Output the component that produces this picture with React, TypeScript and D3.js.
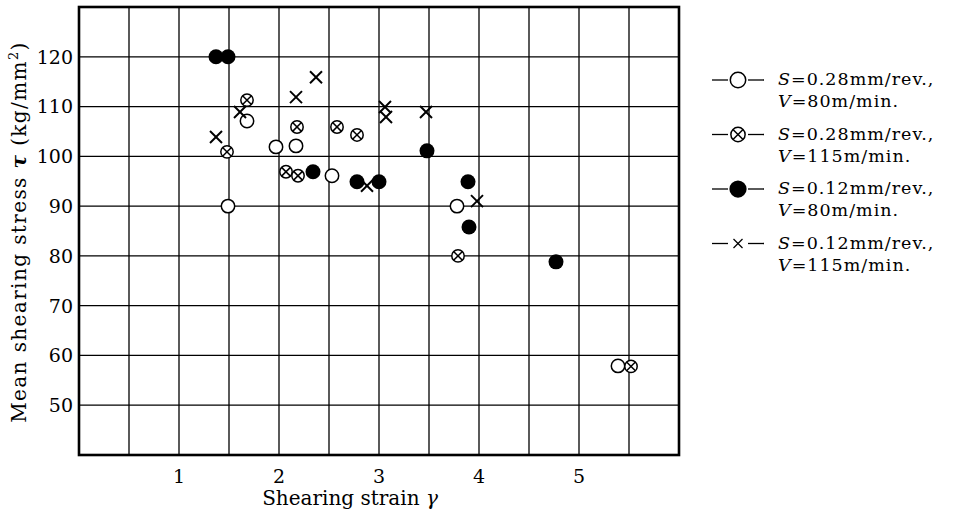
import React from "react";
import * as d3 from "d3";

// S=0.28mm/rev., V=80m/min. (open circle)
const openPts = [
  [1.49, 90], [1.68, 107.1], [1.97, 101.9], [2.17, 102.1], [2.53, 96.1], [3.78, 90], [5.39, 57.9],
];
// S=0.28mm/rev., V=115m/min. (crossed circle)
const crossedPts = [
  [1.48, 100.9], [1.68, 111.3], [2.18, 105.9], [2.07, 96.9], [2.19, 96.1], [2.58, 105.9],
  [2.78, 104.3], [3.79, 80], [5.52, 57.8],
];
// S=0.12mm/rev., V=80m/min. (filled circle)
const filledPts = [
  [1.37, 120], [1.49, 120], [2.34, 96.9], [2.78, 94.9], [3.0, 94.9], [3.48, 101.1],
  [3.89, 94.9], [3.9, 85.8], [4.77, 78.8],
];
// S=0.12mm/rev., V=115m/min. (cross)
const xPts = [
  [1.37, 103.9], [1.61, 108.9], [2.17, 111.9], [2.37, 115.9], [3.06, 109.9], [3.07, 107.9],
  [3.47, 108.9], [2.88, 94.1], [3.98, 91],
];

const xTicks = [1, 2, 3, 4, 5];
const yTicks = [50, 60, 70, 80, 90, 100, 110, 120];
const legendS = ["0.28", "0.28", "0.12", "0.12"];
const legendV = ["80", "115", "80", "115"];
const legendKinds = ["open", "crossed", "filled", "x"];

const W = 968;
const H = 518;
const margin = { left: 79, right: 289, top: 7, bottom: 63 };
const FONT = "'DejaVu Serif', serif";

const Marker = ({ kind, cx, cy, s = 1 }: { kind: string; cx: number; cy: number; s?: number }) => {
  if (kind === "open")
    return <circle cx={cx} cy={cy} r={6.7 * s} fill="#fff" stroke="#000" strokeWidth={1.5} />;
  if (kind === "filled") return <circle cx={cx} cy={cy} r={7.5 * s} fill="#000" />;
  if (kind === "crossed") {
    const r = 6.2 * s;
    const d = r * Math.SQRT1_2;
    return (
      <g stroke="#000" strokeWidth={1.5}>
        <circle cx={cx} cy={cy} r={r} fill="#fff" />
        <line x1={cx - d} y1={cy - d} x2={cx + d} y2={cy + d} />
        <line x1={cx - d} y1={cy + d} x2={cx + d} y2={cy - d} />
      </g>
    );
  }
  const h = 6 * s;
  return (
    <g stroke="#000" strokeWidth={s < 1 ? 1.2 : 2}>
      <line x1={cx - h} y1={cy - h} x2={cx + h} y2={cy + h} />
      <line x1={cx - h} y1={cy + h} x2={cx + h} y2={cy - h} />
    </g>
  );
};

export default function App() {
  const x = d3.scaleLinear().domain([0, 6]).range([margin.left, W - margin.right]);
  const y = d3.scaleLinear().domain([40, 130]).range([H - margin.bottom, margin.top]);

  const vGrid = d3.range(0.5, 6, 0.5);
  const hGrid = d3.range(50, 130, 10);

  const series = [
    { kind: "open", pts: openPts },
    { kind: "crossed", pts: crossedPts },
    { kind: "filled", pts: filledPts },
    { kind: "x", pts: xPts },
  ];

  return (
    <svg width={W} height={H} style={{ position: "absolute", left: 0, top: 0, background: "#fff" }}>
      {/* grid */}
      <g stroke="#000" strokeWidth={1.3}>
        {vGrid.map((v) => (
          <line key={"v" + v} x1={x(v)} x2={x(v)} y1={y(40)} y2={y(130)} />
        ))}
        {hGrid.map((v) => (
          <line key={"h" + v} x1={x(0)} x2={x(6)} y1={y(v)} y2={y(v)} />
        ))}
      </g>
      <rect
        x={x(0)}
        y={y(130)}
        width={x(6) - x(0)}
        height={y(40) - y(130)}
        fill="none"
        stroke="#000"
        strokeWidth={2.6}
      />

      {/* ticks */}
      <g fontFamily={FONT} fontSize={19} fill="#000">
        {yTicks.map((t) => (
          <text key={t} x={x(0) - 6} y={y(t)} dy="0.36em" textAnchor="end">
            {t}
          </text>
        ))}
        {xTicks.map((t) => (
          <text key={t} x={x(t)} y={y(40) + 28} textAnchor="middle">
            {t}
          </text>
        ))}
      </g>

      {/* axis titles */}
      <text x={350} y={505} textAnchor="middle" fontFamily={FONT} fontSize={20}>
        Shearing strain <tspan fontStyle="italic">γ</tspan>
      </text>
      <text
        transform={`translate(26,${232}) rotate(-90)`}
        textAnchor="middle"
        fontFamily={FONT}
        fontSize={20}
        letterSpacing={1.4}
      >
        Mean shearing stress <tspan fontWeight="bold" fontStyle="italic">τ</tspan> (kg/mm
        <tspan fontSize={13} dy={-8}>2</tspan>
        <tspan dy={8}>)</tspan>
      </text>

      {/* points */}
      {series.map((s) =>
        s.pts.map((p, i) => <Marker key={s.kind + i} kind={s.kind} cx={x(p[0])} cy={y(p[1])} />)
      )}

      {/* legend */}
      {legendKinds.map((k, i) => {
        const ly = 85 + i * 54.5;
        return (
          <g key={k}>
            <line x1={712} x2={728} y1={ly - 5} y2={ly - 5} stroke="#000" strokeWidth={1.3} />
            <line x1={748} x2={764} y1={ly - 5} y2={ly - 5} stroke="#000" strokeWidth={1.3} />
            <Marker kind={k} cx={738} cy={ly - 5} s={k === "x" ? 0.75 : 1.15} />
            <text x={778} y={ly} fontFamily={FONT} fontSize={17.5} letterSpacing={1}>
              <tspan fontStyle="italic">S</tspan>={legendS[i]}mm/rev.,
            </text>
            <text x={778} y={ly + 22} fontFamily={FONT} fontSize={17.5} letterSpacing={1}>
              <tspan fontStyle="italic">V</tspan>={legendV[i]}m/min.
            </text>
          </g>
        );
      })}
    </svg>
  );
}
